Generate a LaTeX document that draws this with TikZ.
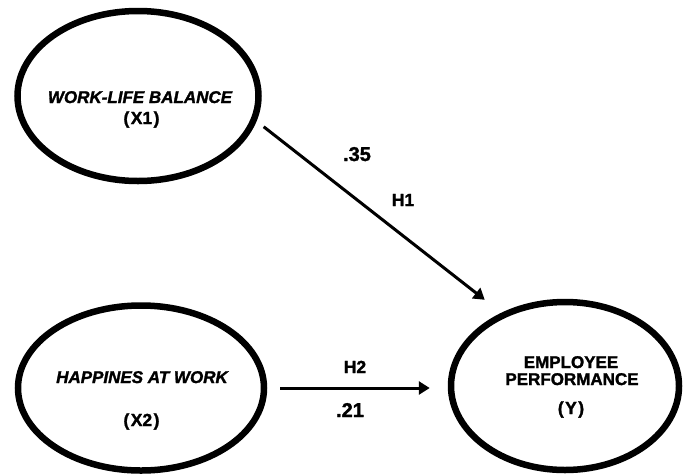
\documentclass[tikz,border=0pt]{standalone}
\usepackage{fontspec}
\setmainfont{Liberation Sans}[BoldFeatures={FakeBold=1.6},BoldItalicFeatures={FakeBold=1.6}]
\usetikzlibrary{shapes.geometric,arrows.meta}
\begin{document}
\begin{tikzpicture}[x=1pt,y=-1pt,
  latent/.style={draw=black,line width=6.5pt,ellipse,inner sep=0pt},
  lbl/.style={anchor=base,inner sep=0pt,font=\fontsize{17}{20}\selectfont\bfseries},
  ilbl/.style={lbl,font=\fontsize{17}{20}\selectfont\bfseries\itshape},
  idx/.style={anchor=base,inner sep=0pt,font=\fontsize{17.5}{20}\selectfont\bfseries},
  coef/.style={anchor=base,inner sep=0pt,font=\fontsize{20}{24}\selectfont\bfseries},
  hyp/.style={anchor=base,inner sep=0pt,font=\fontsize{17.5}{20}\selectfont\bfseries},
  path/.style={draw=black,line width=3pt,-{Triangle[length=11pt,width=13pt]}}]
\useasboundingbox (0,0) rectangle (684,474);
\node[latent,minimum width=241pt,minimum height=170pt] (X1) at (138,96) {};
\node[latent,minimum width=246pt,minimum height=165pt] (X2) at (141,388) {};
\node[latent,minimum width=228pt,minimum height=168pt] (Y) at (565,386) {};
\node[ilbl] (x1a) at (140,103) {WORK-LIFE BALANCE};
\node[idx] (x1b) at (141.5,124) {(\kern1.5pt X1\kern1.5pt)};
\node[ilbl] (x2a) at (142,383) {HAPPINES AT WORK};
\node[idx] (x2b) at (141.5,426) {(\kern1.5pt X2\kern1.5pt)};
\node[lbl] (ya) at (571,368) {EMPLOYEE};
\node[lbl] (yb) at (572,385) {PERFORMANCE};
\node[idx] (yc) at (571,414) {(\kern1.5pt Y\kern1.5pt)};
\draw[path,shorten <=9pt,shorten >=21pt] (X1.-12) -- (Y.131);
\draw[path,shorten <=13pt,shorten >=18pt] (X2.east) -- (X2.east -| Y.west);
\node[coef] (c1) at (357,161) {.35};
\node[hyp] (h1) at (403,206) {H1};
\node[hyp] (h2) at (355,373) {H2};
\node[coef] (c2) at (350,417) {.21};
\end{tikzpicture}
\end{document}
